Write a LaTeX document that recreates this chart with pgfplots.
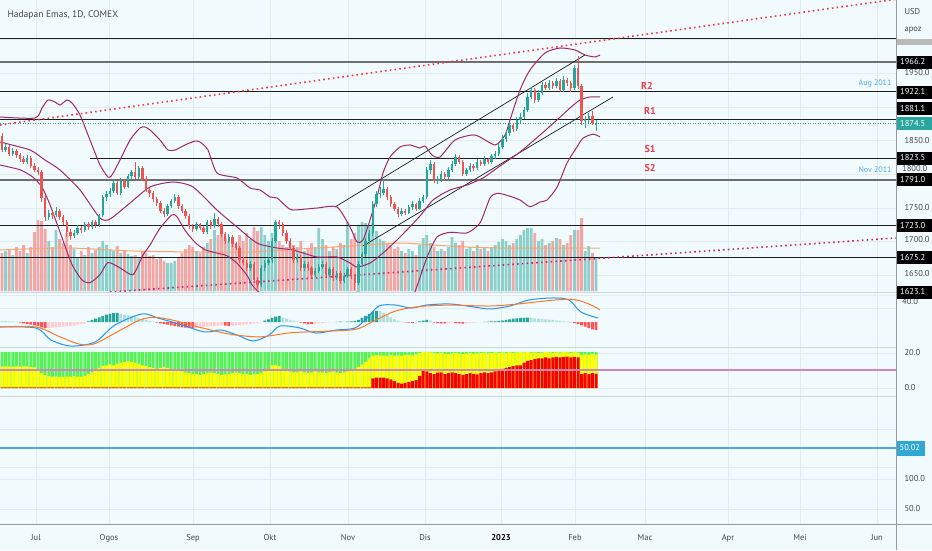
\documentclass[border=0pt]{standalone}
\usepackage{pgfplots}
\pgfplotsset{compat=1.18}
\usepackage{pgfplotstable}
\usepackage{fontspec}
\setmainfont{PT Sans}
\definecolor{bg}{RGB}{241,250,252}
\definecolor{gridc}{RGB}{226,236,240}
\definecolor{sepc}{RGB}{205,214,218}
\definecolor{upc}{RGB}{38,166,154}
\definecolor{dnc}{RGB}{239,83,80}
\definecolor{volup}{RGB}{140,208,203}
\definecolor{voldn}{RGB}{242,166,165}
\definecolor{bandc}{RGB}{160,40,110}
\definecolor{macdb}{RGB}{33,150,243}
\definecolor{macdo}{RGB}{255,120,40}
\definecolor{hdt}{RGB}{38,166,154}
\definecolor{hlt}{RGB}{178,223,219}
\definecolor{hr}{RGB}{255,82,82}
\definecolor{hp}{RGB}{255,205,210}
\definecolor{sqg}{RGB}{90,240,90}
\definecolor{sqy}{RGB}{255,255,0}
\definecolor{sqr}{RGB}{250,0,0}
\definecolor{vma}{RGB}{250,165,110}
\definecolor{redline}{RGB}{242,54,69}
\definecolor{pline}{RGB}{200,40,110}
\definecolor{txt}{RGB}{70,70,70}
\definecolor{lastc}{RGB}{42,165,160}
\definecolor{bluebox}{RGB}{48,168,212}
\definecolor{linec}{RGB}{30,30,30}
\definecolor{thickc}{RGB}{110,110,110}
\definecolor{sqline}{RGB}{205,135,185}
\definecolor{blueline}{RGB}{70,170,230}
\definecolor{note}{RGB}{80,170,230}

\pgfplotsset{
  only/.style 2 args={restrict expr to domain={\thisrow{#1}}{#2}},
  pane/.style={scale only axis, hide axis, width=896pt, xmin=0, xmax=896, anchor=north west, clip=true},
}

\pgfplotstableread{
x o h l c v k
2 1856 1860 1832 1836 38 0
5.6 1836 1845 1832 1840 40 1
9.2 1840 1843 1826 1830 42 0
12.8 1830 1838 1826 1834 36 1
16.4 1834 1837 1824 1828 44 0
20 1828 1831 1818 1822 40 0
23.6 1822 1826 1814 1818 46 0
27.2 1818 1828 1815 1824 38 1
30.8 1824 1826 1808 1812 44 0
34.4 1812 1816 1802 1806 59 0
38 1806 1810 1798 1802 71 0
41.6 1802 1806 1758 1764 70 0
45.2 1764 1768 1730 1736 62 0
48.8 1736 1746 1732 1742 50 1
52.4 1742 1745 1733 1738 44 0
56 1738 1750 1735 1745 61 1
59.6 1745 1748 1731 1735 52 0
63.2 1735 1738 1724 1728 48 0
66.8 1728 1731 1706 1714 58 0
70.4 1714 1718 1702 1708 46 0
74 1708 1716 1704 1712 42 1
77.6 1712 1724 1709 1720 34 1
81.2 1720 1723 1712 1716 40 0
84.8 1716 1729 1713 1725 36 1
88.4 1725 1728 1717 1721 44 0
92 1721 1732 1718 1728 38 1
95.6 1728 1731 1720 1724 41 0
99.2 1724 1740 1721 1738 44 1
102.8 1738 1768 1735 1765 50 1
106.4 1765 1774 1760 1770 46 1
110 1770 1779 1766 1775 42 1
113.6 1775 1790 1772 1786 40 1
117.2 1786 1789 1768 1771 45 0
120.8 1771 1794 1769 1790 38 1
124.4 1790 1793 1778 1781 40 0
128 1781 1800 1779 1796 37 1
131.6 1796 1806 1792 1802 35 1
135.2 1802 1817 1792 1795 36 0
138.8 1795 1812 1793 1808 33 1
142.4 1808 1811 1789 1793 40 0
146 1793 1796 1773 1776 38 0
149.6 1776 1779 1766 1771 35 0
153.2 1771 1774 1758 1762 36 0
156.8 1762 1766 1752 1756 32 0
160.4 1756 1759 1741 1745 34 0
164 1745 1749 1735 1740 30 0
167.6 1740 1755 1737 1752 28 1
171.2 1752 1763 1749 1760 28 1
174.8 1760 1770 1756 1766 30 1
178.4 1766 1769 1748 1752 34 0
182 1752 1755 1741 1745 38 0
185.6 1745 1748 1733 1737 42 0
189.2 1737 1740 1718 1722 46 0
192.8 1722 1726 1713 1718 44 0
196.4 1718 1729 1715 1725 40 1
200 1725 1727 1716 1720 38 0
203.6 1720 1723 1710 1714 44 0
207.2 1714 1732 1711 1728 48 1
210.8 1728 1731 1718 1722 52 0
214.4 1722 1742 1719 1733 61 1
218 1733 1736 1721 1725 56 0
221.6 1725 1728 1706 1710 60 0
225.2 1710 1713 1696 1700 54 0
228.8 1700 1710 1697 1706 50 1
232.4 1706 1709 1691 1695 54 0
236 1695 1699 1686 1690 48 0
239.6 1690 1693 1668 1672 56 0
243.2 1672 1676 1664 1668 50 0
246.8 1668 1672 1656 1660 58 0
250.4 1660 1670 1656 1666 52 1
254 1666 1669 1637 1642 64 0
257.6 1642 1646 1628 1634 60 0
261.2 1634 1664 1631 1660 64 1
264.8 1660 1672 1656 1668 56 1
268.4 1668 1676 1664 1671 50 1
272 1671 1704 1668 1700 58 1
275.6 1700 1732 1697 1728 56 1
279.2 1728 1731 1718 1725 50 0
282.8 1725 1728 1708 1712 46 0
286.4 1712 1716 1696 1700 44 0
290 1700 1704 1686 1690 48 0
293.6 1690 1693 1668 1672 46 0
297.2 1672 1680 1668 1676 44 1
300.8 1676 1679 1656 1660 50 0
304.4 1660 1670 1656 1666 40 1
308 1666 1669 1656 1660 42 0
311.6 1660 1663 1646 1650 48 0
315.2 1650 1660 1647 1656 44 1
318.8 1656 1666 1652 1662 63 1
322.4 1662 1670 1658 1666 52 1
326 1666 1669 1646 1650 46 0
329.6 1650 1662 1647 1658 40 1
333.2 1658 1661 1641 1645 44 0
336.8 1645 1656 1642 1652 42 1
340.4 1652 1655 1636 1640 48 0
344 1640 1652 1637 1648 46 1
347.6 1648 1662 1645 1658 69 1
351.2 1658 1661 1644 1648 52 0
354.8 1648 1651 1627 1638 58 0
358.4 1638 1670 1635 1666 66 1
362 1666 1684 1662 1680 69 1
365.6 1680 1704 1676 1700 68 1
369.2 1700 1716 1696 1712 66 1
372.8 1712 1760 1708 1755 69 1
376.4 1755 1775 1750 1770 60 1
380 1770 1780 1764 1772 52 1
383.6 1772 1791 1768 1778 50 1
387.2 1778 1781 1761 1765 48 0
390.8 1765 1768 1751 1755 46 0
394.4 1755 1758 1744 1748 42 0
398 1748 1751 1736 1740 44 0
401.6 1740 1749 1737 1745 40 1
405.2 1745 1747 1738 1742 38 0
408.8 1742 1754 1740 1750 42 1
412.4 1750 1759 1746 1755 40 1
416 1755 1757 1744 1748 36 0
419.6 1748 1764 1746 1760 46 1
423.2 1760 1769 1756 1765 53 1
426.8 1765 1810 1762 1805 56 1
430.4 1805 1820 1800 1815 48 1
434 1815 1817 1786 1790 44 0
437.6 1790 1796 1785 1792 40 1
441.2 1792 1804 1788 1800 42 1
444.8 1800 1803 1791 1795 40 0
448.4 1795 1810 1792 1806 44 1
452 1806 1819 1803 1815 54 1
455.6 1815 1830 1812 1825 48 1
459.2 1825 1828 1814 1818 46 0
462.8 1818 1821 1796 1800 50 0
466.4 1800 1809 1797 1805 42 1
470 1805 1816 1802 1812 44 1
473.6 1812 1815 1804 1808 40 0
477.2 1808 1822 1806 1818 46 1
480.8 1818 1820 1811 1815 42 0
484.4 1815 1826 1812 1822 44 1
488 1822 1824 1814 1818 40 0
491.6 1818 1830 1815 1826 44 1
495.2 1826 1834 1822 1830 46 1
498.8 1830 1845 1827 1840 49 1
502.4 1840 1857 1837 1852 52 1
506 1852 1864 1848 1860 50 1
509.6 1860 1877 1856 1872 46 1
513.2 1872 1875 1862 1866 48 0
516.8 1866 1884 1863 1880 52 1
520.4 1880 1890 1876 1885 56 1
524 1885 1899 1881 1895 61 1
527.6 1895 1920 1892 1915 63 1
531.2 1915 1929 1911 1925 63 1
534.8 1925 1928 1906 1910 58 0
538.4 1910 1924 1907 1920 50 1
542 1920 1937 1917 1932 52 1
545.6 1932 1936 1924 1928 46 0
549.2 1928 1940 1925 1935 48 1
552.8 1935 1938 1926 1930 50 0
556.4 1930 1943 1927 1938 53 1
560 1938 1941 1921 1925 52 0
563.6 1925 1945 1922 1940 46 1
567.2 1940 1943 1930 1935 48 0
570.8 1935 1938 1922 1928 56 0
574.4 1928 1962 1925 1958 61 1
578 1958 1975 1926 1930 61 0
581.6 1930 1934 1872 1878 73 0
585.2 1878 1886 1868 1882 40 1
588.8 1882 1890 1875 1886 45 1
592.4 1886 1893 1872 1876 38 0
596 1872 1880 1864 1874.5 34 1
}\candles

\pgfplotstableread{
x hm hk yv rv g
2 1.5 2 12.2 0.4 20.6
5.6 1.2 2 12.4 0.4 20.6
9.2 1.0 2 12.2 0.4 20.6
12.8 0.8 2 12.0 0.4 20.6
16.4 0.5 2 12.3 0.4 20.6
20 -1 3 12.1 0.4 20.6
23.6 -2 3 12.4 0.4 20.6
27.2 -3 3 12.2 0.4 20.6
30.8 -4 3 12.0 0.4 20.6
34.4 -5 3 11.8 0.4 20.6
38 -6 3 10.0 0.4 20.6
41.6 -8 3 8.5 0.4 20.6
45.2 -9 3 7.5 0.4 20.6
48.8 -9 4 7.0 0.4 20.6
52.4 -8.5 4 6.5 0.4 20.6
56 -8 4 6.5 0.4 20.6
59.6 -7.5 4 6.3 0.4 20.6
63.2 -7 4 6.3 0.4 20.6
66.8 -6.5 4 6.5 0.4 20.6
70.4 -6 4 6.5 0.4 20.6
74 -5 4 6.8 0.4 20.6
77.6 -4 4 6.5 0.4 20.6
81.2 -3 4 6.5 0.4 20.6
84.8 -2 4 7.0 0.4 20.6
88.4 1 1 8.0 0.4 20.6
92 3 1 9.0 0.4 20.6
95.6 5 1 10.5 0.4 20.6
99.2 7 1 11.5 0.4 20.6
102.8 9 1 12.5 0.4 20.6
106.4 11 1 13.0 0.4 20.6
110 12 1 13.5 0.4 20.6
113.6 13 1 13.0 0.4 20.6
117.2 13.5 1 14.0 0.4 20.6
120.8 12 2 14.5 0.4 20.6
124.4 11 2 15.0 0.4 20.6
128 10 2 15.4 0.4 20.6
131.6 9 2 15.0 0.4 20.6
135.2 7.5 2 14.5 0.4 20.6
138.8 6 2 14.0 0.4 20.6
142.4 4.5 2 13.0 0.4 20.6
146 3 2 12.5 0.4 20.6
149.6 1.5 2 12.0 0.4 20.6
153.2 0.5 2 11.5 0.4 20.6
156.8 -1 3 11.0 0.4 20.6
160.4 -2 3 11.5 0.4 20.6
164 -3 3 12.0 0.4 20.6
167.6 -4 3 11.5 0.4 20.6
171.2 -5 3 11.0 0.4 20.6
174.8 -6 3 10.5 0.4 20.6
178.4 -7 3 10.0 0.4 20.6
182 -8 3 9.5 0.4 20.6
185.6 -8.5 3 9.0 0.4 20.6
189.2 -9 3 8.5 0.4 20.6
192.8 -9.2 3 8.0 0.4 20.6
196.4 -8.5 4 8.0 0.4 20.6
200 -8 4 7.5 0.4 20.6
203.6 -7.5 4 8.0 0.4 20.6
207.2 -7 4 8.5 0.4 20.6
210.8 -6.5 4 9.0 0.4 20.6
214.4 -6 4 8.5 0.4 20.6
218 -5.5 4 8.0 0.4 20.6
221.6 -5 4 7.5 0.4 20.6
225.2 -5.5 3 7.8 0.4 20.6
228.8 -6 3 8.0 0.4 20.6
232.4 -5.5 4 8.5 0.4 20.6
236 -5 4 9.0 0.4 20.6
239.6 -4.5 4 8.5 0.4 20.6
243.2 -4 4 8.0 0.4 20.6
246.8 -3.5 4 8.0 0.4 20.6
250.4 -3 4 7.5 0.4 20.6
254 -2.5 4 7.8 0.4 20.6
257.6 -1.5 4 8.0 0.4 20.6
261.2 -0.5 4 8.5 0.4 20.6
264.8 2 1 9.5 0.4 20.6
268.4 4 1 11.0 0.4 20.6
272 6 1 13.0 0.4 20.6
275.6 8 1 13.0 0.4 20.6
279.2 9 1 12.5 0.4 20.6
282.8 7 2 11.0 0.4 20.6
286.4 5 2 10.0 0.4 20.6
290 3 2 9.5 0.4 20.6
293.6 1.5 2 9.0 0.4 20.6
297.2 0.5 2 9.0 0.4 20.6
300.8 -1 3 9.5 0.4 20.6
304.4 -2 3 9.0 0.4 20.6
308 -3 3 8.5 0.4 20.6
311.6 -3.2 3 9.0 0.4 20.6
315.2 -2.5 4 9.5 0.4 20.6
318.8 -2 4 9.0 0.4 20.6
322.4 -1.5 4 9.0 0.4 20.6
326 -1 4 8.5 0.4 20.6
329.6 -0.5 4 9.0 0.4 20.6
333.2 -0.3 4 9.5 0.4 20.6
336.8 0.3 1 9.0 0.4 20.6
340.4 0.5 1 8.5 0.4 20.6
344 0.4 2 9.0 0.4 20.6
347.6 0.6 1 9.5 0.4 20.6
351.2 1 1 10.0 0.4 20.6
354.8 1.5 1 11.0 0.4 20.6
358.4 3 1 12.0 0.4 20.6
362 6 1 13.5 0.4 20.6
365.6 9 1 15.0 0.4 20.6
369.2 12 1 17.0 0.4 20.6
372.8 15 1 18.5 5.5 20.6
376.4 16.5 1 18.8 6 20.6
380 16 2 18.5 6 20.6
383.6 13 2 18.6 6 20.6
387.2 10 2 18.4 5.5 20.6
390.8 7 2 18.8 5 20.6
394.4 4 2 18.5 4 20.6
398 2 2 18.7 3 20.6
401.6 0.5 2 18.5 2.5 20.6
405.2 -0.5 3 18.8 3 20.6
408.8 -1 3 19.0 3.5 20.6
412.4 -1.2 3 18.7 4 20.6
416 -0.4 4 19.2 4.5 20.6
419.6 1 1 20.0 7 20.6
423.2 2 1 20.6 10 20.6
426.8 3 1 20.6 9.5 20.6
430.4 2 2 20.3 8.5 20.6
434 -1 3 20.0 8 20.6
437.6 -1.5 3 19.8 8.8 20.6
441.2 -2 3 20.2 9 20.6
444.8 -2.2 3 19.7 8 20.6
448.4 -1.5 4 19.5 8.5 20.6
452 -1 4 19.8 9 20.6
455.6 -1.5 3 20.1 8.5 20.6
459.2 -2 3 19.6 8 20.6
462.8 -2.5 3 19.4 7.5 20.6
466.4 -2 4 19.8 8 20.6
470 -1.5 4 20.0 8.5 20.6
473.6 -1 4 19.6 8 20.6
477.2 -0.5 4 19.8 7.8 20.6
480.8 -0.3 4 20.0 8.5 20.6
484.4 0.3 1 20.2 9 20.6
488 0.5 1 19.8 8.5 20.6
491.6 0.8 1 20.0 9 20.6
495.2 1 1 20.3 9.5 20.6
498.8 1.5 1 20.0 10.5 20.6
502.4 2 1 20.4 11 20.6
506 3 1 20.1 11.5 20.6
509.6 4 1 20.3 12 20.6
513.2 5 1 20.0 12.5 20.6
516.8 5.5 1 20.4 13 20.6
520.4 6 1 20.6 13 20.6
524 6.2 1 20.3 14.5 20.6
527.6 6.4 1 20.5 15.5 20.6
531.2 6 2 20.2 16 20.6
534.8 5.5 2 20.4 16.5 20.6
538.4 5 2 20.0 17 20.6
542 4.5 2 20.2 17 20.6
545.6 4 2 20.5 17.5 20.6
549.2 3.5 2 20.3 17 20.6
552.8 3 2 20.0 17.5 20.6
556.4 2 2 20.4 17.8 20.6
560 1.5 2 20.2 17.5 20.6
563.6 1 2 20.5 17.8 20.6
567.2 0.5 2 20.3 18 20.6
570.8 -0.5 3 20.0 17.5 20.6
574.4 -1.5 3 20.4 17.8 20.6
578 -3 3 20.2 17.5 20.6
581.6 -5 3 19.0 8 20.6
585.2 -7 3 19.2 8.5 20.6
588.8 -9 3 19.0 8 20.6
592.4 -11 3 19.3 8.5 20.6
596 -12 3 19.1 8.2 20.6
}\ind

\begin{document}
\begin{tikzpicture}
\begin{scope}[x=1pt,y=-1pt]
\fill[bg] (0,0) rectangle (932,550);
\end{scope}

% grid & separators (pixel frame)
\begin{axis}[pane, at={(0pt,0pt)}, height=524pt, ymin=0, ymax=524, y dir=reverse]
\pgfplotsinvokeforeach{36,109,193,270,348,425,501,575,645,728,800,877}{
  \addplot[gridc, line width=0.8pt] coordinates {(#1,0) (#1,524)};}
\pgfplotsinvokeforeach{39.5,73,107,140,174,208,241,275,295,308,353,388,429,467,479,509}{
  \addplot[gridc, line width=0.8pt] coordinates {(0,#1) (896,#1)};}
\addplot[sepc, line width=0.8pt] coordinates {(0,292) (896,292)};
\addplot[sepc, line width=0.8pt] coordinates {(0,347) (896,347)};
\addplot[sepc, line width=0.8pt] coordinates {(0,396) (896,396)};
\end{axis}

% volume
\begin{axis}[pane, at={(0pt,0pt)}, height=291pt, ymin=0, ymax=291]
\addplot[ybar, bar width=2.8, bar shift=0pt, fill=volup, draw=none, only={k}{0.5:1.5}] table[x=x,y=v]\candles;
\addplot[ybar, bar width=2.8, bar shift=0pt, fill=voldn, draw=none, only={k}{-0.5:0.5}] table[x=x,y=v]\candles;
\addplot[vma, line width=1pt, smooth] coordinates {(0,41) (67,43) (133,40) (200,39) (250,39) (300,42) (333,44) (367,46) (400,48) (433,46) (467,44) (500,43) (533,43) (600,43)};
\end{axis}

% main price pane
\begin{axis}[pane, at={(0pt,0pt)}, height=291pt, ymin=1625.6, ymax=2058.6]
\addplot[linec, line width=0.8pt] coordinates {(0,2002.1) (896,2002.1)};
\addplot[thickc, line width=1.6pt] coordinates {(0,1966.2) (896,1966.2)};
\addplot[linec, line width=0.8pt] coordinates {(0,1922.1) (896,1922.1)};
\addplot[linec, line width=0.8pt] coordinates {(0,1881.1) (896,1881.1)};
\addplot[linec, line width=0.8pt] coordinates {(90,1823.5) (896,1823.5)};
\addplot[thickc, line width=1.6pt] coordinates {(0,1791.0) (896,1791.0)};
\addplot[linec, line width=0.8pt] coordinates {(0,1723.0) (896,1723.0)};
\addplot[linec, line width=0.8pt] coordinates {(0,1675.2) (896,1675.2)};
\addplot[lastc, line width=0.7pt, dash pattern=on 1pt off 1.5pt] coordinates {(0,1874.5) (896,1874.5)};
\addplot[redline, line width=1.6pt, dash pattern=on 1.6pt off 3.2pt] coordinates {(0,1872.6) (896,2059.8)};
\addplot[pline, line width=1.6pt, dash pattern=on 1.6pt off 3.2pt] coordinates {(110,1624.1) (896,1704.5)};
\addplot[linec, line width=0.7pt] coordinates {(335,1750.6) (585,1976.8)};
\addplot[linec, line width=0.7pt] coordinates {(363,1692.6) (613,1914.3)};
\addplot[bandc, line width=1pt, smooth, tension=0.4] coordinates {(0,1884.5) (35,1883.0) (42,1897.9) (48,1909.8) (55,1906.8) (60,1902.4) (67,1909.8) (72,1905.4) (80,1887.5) (90,1850.3) (100,1813.1) (108,1795.2) (112,1798.2) (120,1820.5) (130,1850.3) (140,1868.2) (145,1869.6) (150,1865.2) (160,1850.3) (168,1835.4) (175,1835.4) (185,1842.9) (195,1848.8) (200,1847.3) (208,1835.4) (217,1801.2) (237,1793.8) (250,1778.9) (260,1775.9) (270,1765.5) (277,1764.0) (287,1750.6) (293,1746.1) (317,1749.1) (337,1750.6) (350,1720.8) (357,1698.5) (363,1701.5) (370,1731.2) (377,1765.5) (383,1801.2) (390,1825.0) (400,1839.9) (410,1842.9) (420,1838.4) (425,1841.4) (432,1827.9) (440,1825.0) (455,1850.3) (475,1857.7) (495,1842.9) (505,1857.7) (510,1880.1) (520,1924.7) (530,1954.5) (545,1979.8) (560,1987.2) (575,1984.2) (585,1976.8) (595,1973.8) (600,1976.8)};
\addplot[bandc, line width=1pt, smooth, tension=0.4] coordinates {(0,1847.3) (30,1835.4) (45,1820.5) (60,1805.7) (80,1775.9) (100,1734.2) (110,1732.7) (130,1756.5) (150,1780.4) (173,1787.8) (193,1780.4) (217,1746.1) (237,1720.8) (257,1697.0) (277,1689.6) (293,1686.6) (317,1676.2) (337,1676.2) (350,1667.3) (357,1661.3) (370,1667.3) (383,1682.1) (400,1705.9) (420,1737.2) (433,1761.0) (450,1775.9) (467,1783.3) (483,1793.8) (500,1811.6) (520,1832.4) (540,1857.7) (557,1880.1) (570,1897.9) (580,1909.8) (590,1914.3) (600,1914.3)};
\addplot[bandc, line width=1pt, smooth, tension=0.4] coordinates {(0,1813) (20,1806) (33,1795) (42,1780) (50,1754) (62,1705) (72,1665) (82,1642) (90,1638) (100,1650) (108,1668) (120,1660) (133,1650) (143,1679) (150,1694) (160,1719) (172,1739) (177,1736) (185,1716) (195,1698) (205,1687) (217,1682) (227,1678) (237,1667) (247,1649) (252,1635) (260,1623) (280,1615) (300,1621) (317,1603) (337,1602) (350,1614) (357,1624) (363,1621) (370,1603) (383,1563) (400,1572) (410,1605) (418,1637) (427,1676) (437,1706) (450,1713) (467,1712) (480,1727) (490,1764) (497,1771) (507,1768) (520,1761) (530,1751) (540,1758) (547,1761) (557,1780) (567,1816) (577,1840) (583,1853) (593,1859) (600,1855)};
% candles: wicks then bodies
\addplot[upc, line width=0.8pt, quiver={u=0, v=\thisrow{h}-\thisrow{l}}, only={k}{0.5:1.5}] table[x=x,y=l]\candles;
\addplot[dnc, line width=0.8pt, quiver={u=0, v=\thisrow{h}-\thisrow{l}}, only={k}{-0.5:0.5}] table[x=x,y=l]\candles;
\addplot[upc, line width=2.5pt, quiver={u=0, v=\thisrow{c}-\thisrow{o}}, only={k}{0.5:1.5}] table[x=x,y=o]\candles;
\addplot[dnc, line width=2.5pt, quiver={u=0, v=\thisrow{c}-\thisrow{o}}, only={k}{-0.5:0.5}] table[x=x,y=o]\candles;
\end{axis}

% MACD pane
\begin{axis}[pane, at={(0pt,-292pt)}, height=55pt, ymin=-37.04, ymax=44.44]
\addplot[ybar, bar width=2.8, bar shift=0pt, fill=hdt, draw=none, only={hk}{0.5:1.5}] table[x=x,y=hm]\ind;
\addplot[ybar, bar width=2.8, bar shift=0pt, fill=hlt, draw=none, only={hk}{1.5:2.5}] table[x=x,y=hm]\ind;
\addplot[ybar, bar width=2.8, bar shift=0pt, fill=hr, draw=none, only={hk}{2.5:3.5}] table[x=x,y=hm]\ind;
\addplot[ybar, bar width=2.8, bar shift=0pt, fill=hp, draw=none, only={hk}{3.5:4.5}] table[x=x,y=hm]\ind;
\addplot[macdb, line width=1pt, smooth, tension=0.5] coordinates {(0,-7.4) (36,-8.9) (51,-26.7) (71,-35.6) (95,-29.6) (115,-4.4) (142,11.9) (158,5.9) (182,-4.4) (205,-14.8) (221,-11.9) (237,-19.3) (253,-28.1) (269,-19.3) (280,-5.9) (300,-8.9) (316,-16.3) (336,-11.9) (355,-8.9) (367,5.9) (379,23.7) (395,25.2) (411,20.7) (427,25.2) (450,26.7) (474,22.2) (490,19.3) (510,23.7) (529,32.6) (553,35.6) (569,32.6) (581,14.8) (598,5.9)};
\addplot[macdo, line width=1pt, smooth, tension=0.5] coordinates {(0,-7.4) (36,-7.4) (60,-22) (80,-33) (95,-32) (118,-14) (140,3) (155,7) (175,2) (200,-8) (230,-18) (260,-22) (290,-16) (320,-14) (355,-11) (372,0) (395,16) (420,23) (450,25) (490,23.7) (520,27) (555,32.6) (575,33) (590,26) (600,18)};
\end{axis}

% squeeze-like pane
\begin{axis}[pane, at={(0pt,-347pt)}, height=48pt, ymin=-4, ymax=23.43]
\addplot[ybar, bar width=3.0, bar shift=0pt, fill=sqg, draw=none] table[x=x,y=g]\ind;
\addplot[ybar, bar width=3.0, bar shift=0pt, fill=sqy, draw=none] table[x=x,y=yv]\ind;
\addplot[ybar, bar width=3.0, bar shift=0pt, fill=sqr, draw=none] table[x=x,y=rv]\ind;
\addplot[sqline, line width=1.2pt] coordinates {(0,10.3) (896,10.3)};
\end{axis}

% bottom pane
\begin{axis}[pane, at={(0pt,-395pt)}, height=129pt, ymin=42.42, ymax=55.32]
\addplot[blueline, line width=1.2pt] coordinates {(0,50.02) (896,50.02)};
\end{axis}

\begin{scope}[x=1pt,y=-1pt, font=\fontsize{8.5}{10}\selectfont]
\draw[gray!80, line width=0.9pt] (0,524) -- (932,524);
\draw[gray!80, line width=0.9pt] (896,0) -- (896,550);
\node[anchor=west, text=txt, font=\fontsize{9.5}{11}\selectfont] at (4,15) {Hadapan Emas, 1D, COMEX};
\node[text=redline, font=\fontsize{10}{12}\selectfont\bfseries] at (647,86) {R2};
\node[text=redline, font=\fontsize{10}{12}\selectfont\bfseries] at (650,111) {R1};
\node[text=redline, font=\fontsize{10}{12}\selectfont\bfseries] at (650,149) {S1};
\node[text=redline, font=\fontsize{10}{12}\selectfont\bfseries] at (650,168) {S2};
\node[text=note, font=\fontsize{8}{9}\selectfont] at (875,83) {Aug 2011};
\node[text=note, font=\fontsize{8}{9}\selectfont] at (875,170) {Nov 2011};
\node[anchor=west, text=txt] at (901,12) {USD};
\node[anchor=west, text=txt] at (901,30) {apoz};
\node[anchor=west, text=txt] at (901,73) {1950.0};
\node[anchor=west, text=txt] at (901,141) {1850.0};
\node[anchor=west, text=txt, inner sep=0pt] at (902,169) {1800.0};
\node[anchor=west, text=txt] at (901,208) {1750.0};
\node[anchor=west, text=txt] at (901,240) {1700.0};
\node[anchor=west, text=txt] at (901,274) {1650.0};
\node[anchor=west, text=txt, inner sep=0pt] at (902,302) {40.0};
\node[anchor=west, text=txt] at (901,353) {20.0};
\node[anchor=west, text=txt] at (901,388) {0.0};
\node[anchor=west, text=txt] at (901,479) {100.0};
\node[anchor=west, text=txt] at (901,509) {50.0};
\fill[gray!55] (897,39) rectangle (932,45);
\foreach \yy/\tt in {62/1966.2, 92/1922.1, 108.5/1881.1, 158/1823.5, 179.5/1791.0, 225.5/1723.0, 257.5/1675.2, 292/1623.1}{
  \fill[black] (897,\yy-6.5) rectangle (932,\yy+6.5);
  \node[text=white, anchor=west, inner sep=0pt] at (900,\yy) {\tt};
}
\fill[lastc] (897,117) rectangle (932,130);
\node[text=white, anchor=west, inner sep=0pt] at (900,123.5) {1874.5};
\fill[bluebox] (897,441) rectangle (925,455.5);
\node[text=white, anchor=west, inner sep=0pt] at (899.5,448) {50.02};
\foreach \xx/\tt in {36/Jul, 109/Ogos, 193/Sep, 270/Okt, 348/Nov, 425/Dis, 575/Feb, 645/Mac, 728/Apr, 800/Mei, 877/Jun}{
  \node[text=txt] at (\xx,538) {\tt};
}
\node[text=black, font=\fontsize{8.5}{10}\selectfont\bfseries] at (501,538) {2023};
\end{scope}
\pgfresetboundingbox
\path[use as bounding box] (0pt,0pt) rectangle (932pt,-550pt);
\end{tikzpicture}
\end{document}
